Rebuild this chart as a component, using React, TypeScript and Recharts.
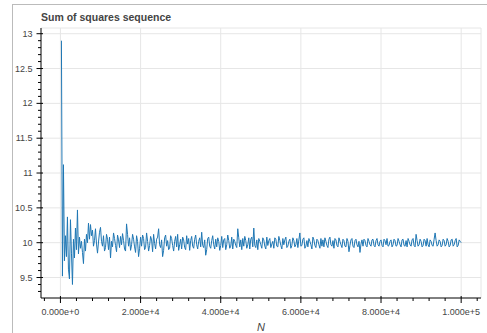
import React from 'react';
import { LineChart, Line, XAxis, YAxis, CartesianGrid } from 'recharts';

const TITLE = 'Sum of squares sequence';
const X_LABEL = 'N';
const N_STEP = 250;

const SUM_VALUES: number[] = [
  12.90, 9.52, 11.12, 9.74, 10.10, 9.80, 10.37, 9.62, 9.48, 10.33, 9.85, 9.40, 10.05, 9.78, 10.21, 9.90, 10.47, 9.84, 10.08, 9.92,
  10.02, 9.86, 9.70, 10.05, 9.88, 10.12, 10.00, 10.28, 10.05, 10.26, 10.10, 10.18, 9.95, 10.03, 10.20, 9.98, 9.85, 10.01, 10.15, 10.22,
  10.02, 9.95, 10.10, 9.88, 9.93, 10.12, 10.05, 9.90, 10.08, 9.78, 10.02, 9.94, 10.14, 10.06, 9.96, 9.87, 10.11, 10.04, 9.93, 10.09,
  9.97, 10.13, 10.03, 9.91, 9.88, 10.27, 10.12, 9.95, 10.07, 9.89, 9.97, 10.12, 10.05, 9.94, 9.86, 10.10, 10.02, 9.80, 9.92, 10.08,
  9.95, 10.11, 10.06, 9.90, 9.93, 10.14, 10.02, 9.88, 9.96, 10.09, 10.04, 9.87, 10.12, 9.99, 9.91, 10.05, 10.08, 10.20, 9.97, 9.93,
  10.04, 9.80, 9.89, 10.07, 10.11, 9.95, 10.03, 9.90, 9.92, 10.10, 10.06, 9.96, 9.88, 10.02, 10.09, 9.94, 10.12, 9.89, 9.97, 10.05,
  9.91, 10.08, 10.04, 9.93, 9.90, 10.10, 9.98, 10.06, 9.89, 10.03, 10.09, 9.95, 9.92, 10.05, 10.11, 9.97, 9.91, 10.02, 10.07, 9.94,
  10.15, 9.96, 9.93, 10.04, 9.82, 9.90, 10.06, 10.08, 9.95, 9.92, 10.03, 10.10, 9.97, 9.91, 10.05, 9.94, 10.07, 10.02, 9.89, 9.96,
  10.09, 9.93, 10.04, 10.06, 9.90, 9.97, 10.11, 10.03, 9.92, 9.95, 10.08, 9.91, 10.05, 10.02, 9.96, 9.93, 10.20, 10.07, 9.94, 10.04,
  9.90, 10.06, 9.95, 10.09, 10.03, 9.92, 9.97, 10.07, 9.91, 10.05, 10.08, 9.94, 10.21, 9.96, 9.93, 10.04, 9.90, 10.06, 10.02, 9.97,
  9.92, 10.07, 10.04, 9.95, 9.91, 10.08, 9.96, 10.03, 10.06, 9.93, 9.98, 10.02, 9.92, 10.07, 10.05, 9.95, 9.94, 10.09, 10.03, 9.96,
  9.91, 10.06, 9.97, 10.04, 10.08, 9.93, 9.95, 10.02, 10.05, 9.92, 9.96, 10.07, 10.03, 9.94, 9.97, 10.06, 9.93, 10.04, 10.14, 9.95,
  9.96, 10.05, 10.07, 9.92, 9.95, 10.03, 9.94, 10.06, 10.02, 9.97, 9.91, 10.08, 10.04, 9.96, 9.93, 10.05, 10.03, 9.97, 9.92, 10.06,
  9.95, 10.04, 9.94, 10.07, 10.02, 9.96, 9.93, 10.05, 10.08, 9.97, 9.95, 10.03, 9.92, 10.06, 10.04, 9.96, 9.94, 10.07, 10.02, 9.97,
  9.93, 10.05, 10.03, 9.95, 9.94, 10.06, 10.02, 9.87, 9.96, 10.04, 10.06, 9.95, 9.93, 10.03, 10.05, 9.97, 9.94, 10.02, 9.86, 9.98,
  10.04, 9.95, 10.05, 10.03, 9.96, 9.94, 10.06, 10.02, 9.97, 9.95, 10.04, 10.05, 9.96, 9.94, 10.03, 10.06, 9.97, 9.95, 10.02, 10.04,
  9.96, 9.94, 10.05, 10.03, 9.97, 10.06, 9.95, 9.96, 10.02, 10.04, 9.94, 9.97, 10.05, 10.03, 9.95, 9.96, 10.06, 10.02, 9.97, 9.94,
  10.04, 10.05, 9.96, 9.95, 10.03, 9.94, 10.06, 10.02, 9.97, 9.95, 10.04, 10.06, 9.96, 9.94, 10.12, 10.03, 9.95, 9.97, 10.05, 10.02,
  9.94, 9.96, 10.05, 10.03, 9.95, 10.06, 9.97, 9.94, 10.04, 10.02, 9.96, 9.95, 10.05, 10.14, 10.03, 9.95, 9.97, 10.04, 10.02, 9.94,
  9.96, 10.05, 10.03, 9.95, 9.97, 10.06, 10.02, 9.94, 9.96, 10.04, 10.05, 9.95, 9.97, 10.03, 10.06, 9.94, 9.96, 10.04, 10.02, 10.00,
];

const X_TICKS = [
  -4000, 0, 4000, 8000, 12000, 16000, 20000, 24000, 28000, 32000, 36000, 40000, 44000, 48000,
  52000, 56000, 60000, 64000, 68000, 72000, 76000, 80000, 84000, 88000, 92000, 96000, 100000, 104000,
];
const X_MAJOR = [0, 20000, 40000, 60000, 80000, 100000];
const Y_TICKS = [
  9.3, 9.4, 9.5, 9.6, 9.7, 9.8, 9.9, 10.0, 10.1, 10.2, 10.3, 10.4, 10.5, 10.6, 10.7, 10.8, 10.9,
  11.0, 11.1, 11.2, 11.3, 11.4, 11.5, 11.6, 11.7, 11.8, 11.9, 12.0, 12.1, 12.2, 12.3, 12.4, 12.5,
  12.6, 12.7, 12.8, 12.9, 13.0,
];
const Y_MAJOR = [9.5, 10, 10.5, 11, 11.5, 12, 12.5, 13];
const X_DOMAIN: [number, number] = [-4850, 104950];
const Y_DOMAIN: [number, number] = [9.206, 13.082];

const data = SUM_VALUES.map((v, i) => ({ n: (i + 1) * N_STEP, v }));

const FONT = '"Liberation Sans", Arial, Helvetica, sans-serif';
const TEXT = '#444444';

const isYMajor = (v: number) => Y_MAJOR.some((m) => Math.abs(m - v) < 1e-6);

const XTick = (props: any) => {
  const { x, y, payload } = props;
  const v = payload.value;
  const major = X_MAJOR.includes(v);
  return (
    <g>
      <line x1={x} x2={x} y1={major ? y - 2 : y} y2={major ? y + 5 : y + 3} stroke="#000" strokeWidth={1} />
      {major && (
        <text x={x} y={y + 13.5} textAnchor="middle" dominantBaseline="central" fontSize={9} fontFamily={FONT} fill={TEXT}>
          {Number(v).toExponential(3)}
        </text>
      )}
    </g>
  );
};

const YTick = (props: any) => {
  const { x, y, payload } = props;
  const v = payload.value;
  const major = isYMajor(v);
  return (
    <g>
      <line x1={major ? x - 4.5 : x - 3} x2={major ? x + 2 : x} y1={y} y2={y} stroke="#000" strokeWidth={1} />
      {major && (
        <text x={x - 8.5} y={y} textAnchor="end" dominantBaseline="central" fontSize={9} fontFamily={FONT} fill={TEXT}>
          {String(v)}
        </text>
      )}
    </g>
  );
};

export default function App() {
  return (
    <div style={{ position: 'absolute', left: 0, top: 0, width: 487, height: 333, background: '#fff', overflow: 'hidden' }}>
      <div
        style={{
          position: 'absolute',
          left: 12,
          top: 4,
          width: 475,
          height: 329,
          borderTop: '1px solid #bbbbbb',
          borderLeft: '1px solid #bbbbbb',
        }}
      />
      <div
        style={{
          position: 'absolute',
          left: 41,
          top: 11,
          fontFamily: FONT,
          fontWeight: 'bold',
          fontSize: 10.5,
          lineHeight: '13px',
          color: TEXT,
          whiteSpace: 'nowrap',
        }}
      >
        {TITLE}
      </div>
      <div style={{ position: 'absolute', left: 0, top: 0 }}>
        <LineChart width={487} height={333} data={data} margin={{ top: 28, right: 6, left: 0, bottom: 0 }}>
          <CartesianGrid
            stroke="#e6e6e6"
            strokeWidth={1}
            horizontalValues={[...Y_MAJOR, Y_DOMAIN[1]]}
            verticalValues={[...X_MAJOR, X_DOMAIN[1]]}
          />
          <XAxis
            dataKey="n"
            type="number"
            domain={X_DOMAIN}
            allowDataOverflow
            ticks={X_TICKS}
            interval={0}
            tickSize={0}
            tickMargin={0}
            tickLine={false}
            tick={<XTick />}
            axisLine={{ stroke: '#000', strokeWidth: 1 }}
            height={35}
          />
          <YAxis
            type="number"
            domain={Y_DOMAIN}
            allowDataOverflow
            ticks={Y_TICKS}
            interval={0}
            tickSize={0}
            tickMargin={0}
            tickLine={false}
            tick={<YTick />}
            axisLine={{ stroke: '#000', strokeWidth: 1 }}
            width={41}
          />
          <Line
            type="linear"
            dataKey="v"
            stroke="#1f77b4"
            strokeWidth={1}
            dot={false}
            isAnimationActive={false}
          />
        </LineChart>
      </div>
      <div
        style={{
          position: 'absolute',
          left: 231,
          top: 321,
          width: 60,
          textAlign: 'center',
          fontFamily: FONT,
          fontStyle: 'italic',
          fontSize: 11,
          lineHeight: '13px',
          color: TEXT,
        }}
      >
        {X_LABEL}
      </div>
    </div>
  );
}
